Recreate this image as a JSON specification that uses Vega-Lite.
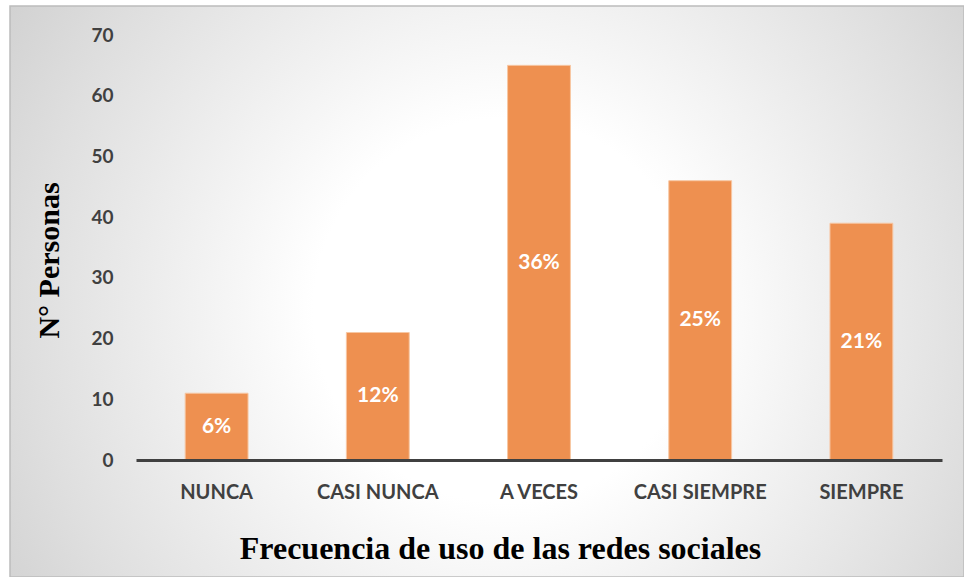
{
  "$schema": "https://vega.github.io/schema/vega-lite/v6.json",
  "width": 954,
  "height": 571,
  "autosize": {"type": "none"},
  "padding": {"left": 10, "top": 6, "right": 0, "bottom": 0},
  "background": "#ffffff",
  "config": {"view": {"stroke": null}},
  "data": {"values": [
    {"categoria": "NUNCA", "personas": 11, "porcentaje": "6%"},
    {"categoria": "CASI NUNCA", "personas": 21, "porcentaje": "12%"},
    {"categoria": "A VECES", "personas": 65, "porcentaje": "36%"},
    {"categoria": "CASI SIEMPRE", "personas": 46, "porcentaje": "25%"},
    {"categoria": "SIEMPRE", "personas": 39, "porcentaje": "21%"}
  ]},
  "layer": [
    {
      "data": {"values": [{"fondo": 1}]},
      "mark": {
        "type": "rect",
        "stroke": "#bcbcbc",
        "strokeWidth": 1.5,
        "fill": {
          "gradient": "radial",
          "x1": 0.52, "y1": 0.52, "r1": 0,
          "x2": 0.52, "y2": 0.52, "r2": 0.72,
          "stops": [
            {"offset": 0, "color": "#ffffff"},
            {"offset": 0.28, "color": "#ffffff"},
            {"offset": 0.69, "color": "#dfdfdf"},
            {"offset": 1, "color": "#c5c5c5"}
          ]
        }
      },
      "encoding": {}
    },
    {
      "mark": {"type": "bar", "color": "#ee9050", "stroke": "#f7c7a3", "strokeWidth": 1},
      "encoding": {
        "x": {
          "field": "categoria", "type": "nominal", "sort": null,
          "scale": {"paddingInner": 0.61, "paddingOuter": 0.305, "range": [126, 932]},
          "axis": {
            "zindex": 1,
            "offset": -117,
            "title": "Frecuencia de uso de las redes sociales",
            "titleFont": "Liberation Serif",
            "titleFontSize": 32,
            "titleFontWeight": "bold",
            "titleColor": "#000000",
            "titleX": 490,
            "titleY": 98,
            "titleBaseline": "alphabetic",
            "labelFont": "Lato",
            "labelFontSize": 20,
            "labelFontWeight": "bold",
            "labelColor": "#404040",
            "labelAngle": 0,
            "labelBaseline": "middle",
            "labelPadding": 32,
            "ticks": false,
            "domainColor": "#404040",
            "domainWidth": 3
          }
        },
        "y": {
          "field": "personas", "type": "quantitative",
          "scale": {"domain": [0, 70], "range": [454, 29]},
          "axis": {
            "zindex": 1,
            "offset": -126,
            "values": [0, 10, 20, 30, 40, 50, 60, 70],
            "title": "N° Personas",
            "titleFont": "Liberation Serif",
            "titleFontSize": 30,
            "titleFontWeight": "bold",
            "titleColor": "#000000",
            "titleX": -78,
            "titleY": 254,
            "titleBaseline": "alphabetic",
            "labelFont": "Lato",
            "labelFontSize": 19,
            "labelFontWeight": "bold",
            "labelColor": "#404040",
            "labelPadding": 23,
            "ticks": false,
            "domain": false,
            "grid": false
          }
        }
      }
    },
    {
      "mark": {"type": "text", "font": "Lato", "fontSize": 21, "fontWeight": "bold", "color": "#ffffff", "baseline": "middle"},
      "encoding": {
        "x": {"field": "categoria", "type": "nominal", "sort": null},
        "y": {"field": "personas", "type": "quantitative", "scale": {"domain": [0, 140], "range": [454, 29]}, "axis": null},
        "text": {"field": "porcentaje"}
      }
    }
  ],
  "resolve": {"scale": {"y": "independent"}}
}
